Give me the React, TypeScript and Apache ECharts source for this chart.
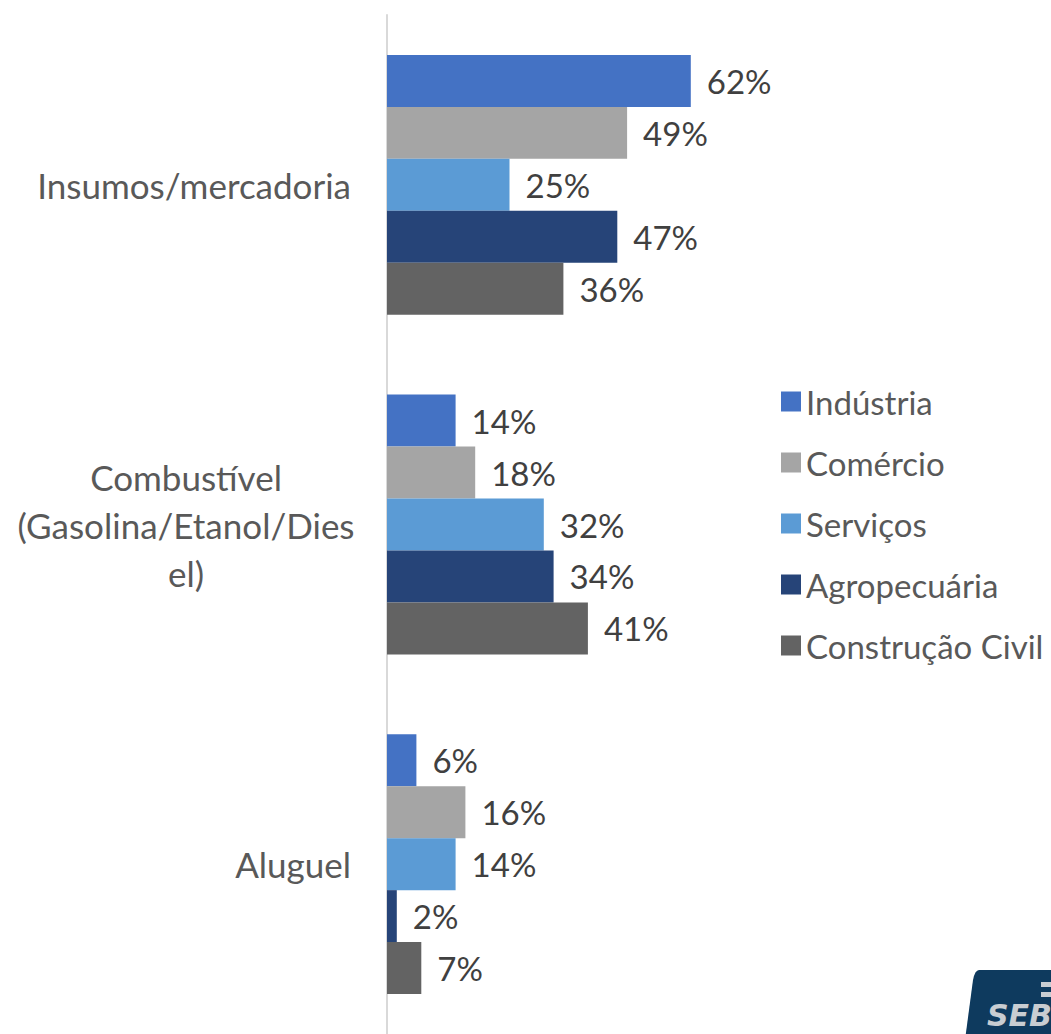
import React, { useEffect, useRef } from "react";
import * as echarts from "echarts";

const categories = ["Insumos/mercadoria", "Combustível\n(Gasolina/Etanol/Dies\nel)", "Aluguel"];
const seriesNames = ["Indústria", "Comércio", "Serviços", "Agropecuária", "Construção Civil"];
const industria = [62, 14, 6];
const comercio = [49, 18, 16];
const servicos = [25, 32, 14];
const agropecuaria = [47, 34, 2];
const construcao = [36, 41, 7];
const colors = ["#4472C4", "#A5A5A5", "#5B9BD5", "#264478", "#636363"];

const FONT = "Lato, 'Open Sans', sans-serif";
const FS = 33;
const CAT_FS = 35;

export default function App() {
  const ref = useRef<HTMLDivElement>(null);
  useEffect(() => {
    if (!ref.current) return;
    const chart = echarts.init(ref.current, undefined, { renderer: "svg" });
    echarts.graphic.registerShape(
      "sebraeLogo",
      echarts.graphic.extendPath(
        "M 14 0 L 100 0 L 100 70 L 0 70 L 8 10 Q 10 0 14 0 Z",
        {}
      )
    );
    const data = [industria, comercio, servicos, agropecuaria, construcao];
    chart.setOption({
      animation: false,
      grid: { left: 387, top: 15, width: 490, height: 1020, containLabel: false },
      xAxis: {
        type: "value",
        min: 0,
        max: 100,
        show: false,
        splitLine: { show: false },
      },
      yAxis: {
        type: "category",
        data: categories,
        inverse: true,
        axisLine: { show: true, lineStyle: { color: "#D9D9D9", width: 2 } },
        axisTick: { show: false },
        axisLabel: {
          margin: 36,
          fontSize: CAT_FS,
          color: "#595959",
          fontFamily: FONT,
          align: "right",
          lineHeight: 48,
          formatter: (v: string) =>
            v.includes("\n")
              ? v
                  .split("\n")
                  .map((l) => "{c|" + l + "}")
                  .join("\n")
              : v,
          rich: {
            c: {
              width: 330,
              align: "center",
              fontSize: CAT_FS,
              color: "#595959",
              fontFamily: FONT,
              lineHeight: 48,
            },
          },
        },
      },
      legend: {
        orient: "vertical",
        left: 776,
        top: 380,
        itemWidth: 20,
        itemHeight: 20,
        itemGap: 28,
        icon: "rect",
        textStyle: { fontSize: FS, color: "#595959", fontFamily: FONT, lineHeight: 33 },
        data: seriesNames,
      },
      series: seriesNames.map((name, i) => ({
        name,
        type: "bar",
        data: data[i],
        barCategoryGap: "23.5%",
        barGap: "0%",
        itemStyle: { color: colors[i] },
        label: {
          show: true,
          position: "right",
          distance: 16,
          formatter: "{c}%",
          fontSize: FS,
          color: "#404040",
          fontFamily: FONT,
        },
      })),
      graphic: [
        {
          type: "group",
          left: 965,
          top: 970,
          children: [
            { type: "sebraeLogo", x: 0, y: 0, scaleX: 1, scaleY: 1, style: { fill: "#0E3A5E" } },
            {
              type: "text",
              x: 22,
              y: 30,
              style: {
                text: "SEB",
                fontSize: 30,
                fontWeight: "bold",
                fontStyle: "italic",
                fontFamily: "'DejaVu Sans', sans-serif",
                fill: "#C8CDD2",
              },
            },
            { type: "rect", shape: { x: 76, y: 12, width: 24, height: 5 }, style: { fill: "#C8CDD2" } },
            { type: "rect", shape: { x: 76, y: 22, width: 24, height: 5 }, style: { fill: "#C8CDD2" } },
          ],
        },
      ],
    });
    return () => chart.dispose();
  }, []);
  return (
    <div
      ref={ref}
      style={{ position: "fixed", left: 0, top: 0, width: 1051, height: 1034, background: "#fff" }}
    />
  );
}
